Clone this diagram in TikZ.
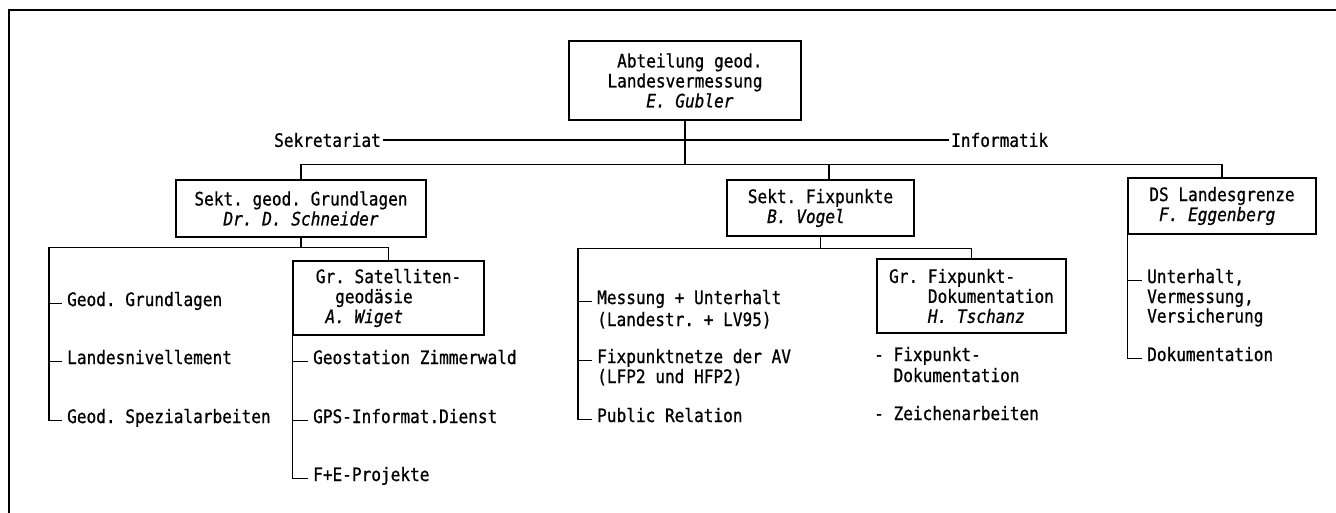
\documentclass[tikz,border=0pt]{standalone}
\usepackage{fontspec}
\setmonofont[FakeStretch=0.87, FakeBold=0.8]{DejaVu Sans Mono}
\usepackage{tikz}
\newlength\chw
\setlength\chw{9.7pt}
\newcommand{\sk}[1]{\hspace*{#1\chw}}
\tikzstyle{unit} = [rectangle, draw=black, line width=1.1pt, align=left, inner sep=0pt]
\tikzstyle{item} = [anchor=base west, inner xsep=5pt, inner ysep=1pt]
\tikzstyle{line} = [line width=1.1pt]

\begin{document}
\begin{tikzpicture}[x=1pt, y=-1pt, font=\ttfamily\fontsize{18.5}{20}\selectfont]
\useasboundingbox (0,0) rectangle (1336,513);
\draw [line] (9,513) -- (9,10) -- (1336,10);
% boxes
\node (abt) [unit, minimum width=232pt, minimum height=79pt] at (685,80.5) {\sk{1}Abteilung geod.\\Landesvermessung\\\sk{4}\textit{E. Gubler}};
\node (geo) [unit, minimum width=250pt, minimum height=57pt] at (301,208.5) {Sekt. geod. Grundlagen\\\sk{3}\textit{Dr. D. Schneider}};
\node (fix) [unit, minimum width=187pt, minimum height=56pt] at (820.5,208) {Sekt. Fixpunkte\\\sk{2}\textit{B. Vogel}};
\node (ds) [unit, minimum width=188pt, minimum height=56pt] at (1222,206) {DS Landesgrenze\\\sk{1}\textit{F. Eggenberg}};
\node (sat) [unit, minimum width=191pt, minimum height=74pt] at (388.5,298) {Gr. Satelliten-\\\sk{2}geodäsie\\\sk{1}\textit{A. Wiget}};
\node (doku) [unit, minimum width=189pt, minimum height=74pt] at (971.5,296) {Gr. Fixpunkt-\\\sk{4}Dokumentation\\\sk{4}\textit{H. Tschanz}};
\node (sek) [anchor=east, inner sep=2pt] at (383,140) {Sekretariat};
\node (inf) [anchor=west, inner sep=2pt] at (949,140) {Informatik};
% items
\node (g1) [item] at (62,306) {Geod. Grundlagen};
\node (g2) [item] at (62,364) {Landesnivellement};
\node (g3) [item] at (62,423) {Geod. Spezialarbeiten};
\node (s1) [item] at (308,364) {Geostation Zimmerwald};
\node (s2) [item] at (308,423) {GPS-Informat.Dienst};
\node (s3) [item] at (308,481) {F+E-Projekte};
\node (f1) [item] at (592,304) {Messung + Unterhalt};
\node (f1b) [item] at ([yshift=-22pt]f1.base west) {(Landestr. + LV95)};
\node (f2) [item] at (592,363) {Fixpunktnetze der AV};
\node (f2b) [item] at ([yshift=-20pt]f2.base west) {(LFP2 und HFP2)};
\node (f3) [item] at (592,422) {Public Relation};
\node (k1) [item] at (869,361) {- Fixpunkt-};
\node (k1b) [item] at ([yshift=-21pt]k1.base west) {\sk{2}Dokumentation};
\node (k2) [item] at (869,420) {- Zeichenarbeiten};
\node (d1) [item] at (1142,283) {Unterhalt,};
\node (d1b) [item] at ([yshift=-20pt]d1.base west) {Vermessung,};
\node (d1c) [item] at ([yshift=-19.5pt]d1b.base west) {Versicherung};
\node (d2) [item] at (1142,361) {Dokumentation};
% connectors
\draw [line] (sek.east) -- (inf.west);
\draw [line] (abt.south) -- ++(0,44) coordinate (hub);
\draw [line] (geo.north) |- (hub) -| (ds.north);
\draw [line] (hub) -| ([xshift=8.5pt]fix.north);
\draw [line] (geo.south) -- ++(0,10) coordinate (geohub);
\draw [line] (sat.north) |- (geohub) -| ([xshift=-13pt]g3.mid west) -- (g3.mid west);
\foreach \n in {g1,g2}
  \draw [line] ([xshift=-13pt]\n.mid west) -- (\n.mid west);
\draw [line] (sat.south west) |- (s3.mid west);
\foreach \n in {s1,s2}
  \draw [line] (sat.south west |- \n.mid west) -- (\n.mid west);
\draw [line] (fix.south) -- ++(0,12) coordinate (fixhub);
\draw [line] (doku.north) |- (fixhub) -| ([xshift=-14pt]f3.mid west) -- (f3.mid west);
\foreach \n in {f1,f2}
  \draw [line] ([xshift=-14pt]\n.mid west) -- (\n.mid west);
\draw [line] (ds.south west) |- (d2.mid west);
\draw [line] (ds.south west |- d1.mid west) -- (d1.mid west);
\end{tikzpicture}
\end{document}
